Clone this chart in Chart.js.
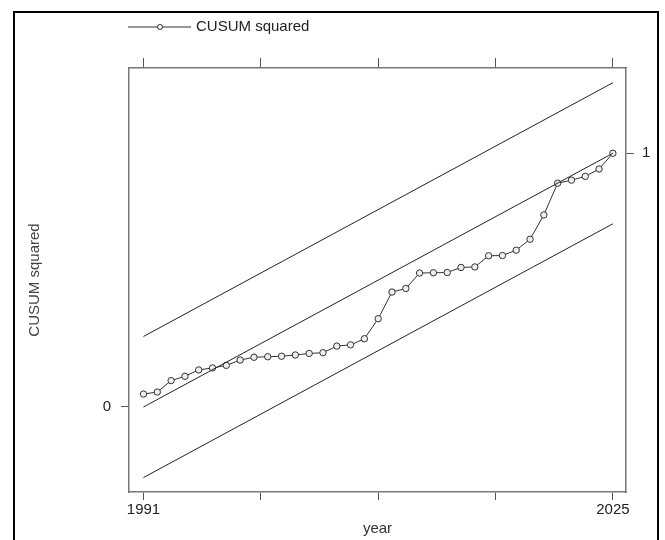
<!DOCTYPE html>
<html>
<head>
<meta charset="utf-8">
<script src="https://cdn.jsdelivr.net/npm/chart.js@4.4.1/dist/chart.umd.min.js"></script>
<style>
  html, body { margin: 0; padding: 0; background: #fff; }
  #wrap { width: 665px; height: 540px; position: relative; }
</style>
</head>
<body>
<div id="wrap"><canvas id="cusumChart" width="665" height="540"></canvas></div>
<script>
// ================= DATA =================
const years = [
  1991, 1992, 1993, 1994, 1995, 1996, 1997, 1998, 1999, 2000,
  2001, 2002, 2003, 2004, 2005, 2006, 2007, 2008, 2009, 2010,
  2011, 2012, 2013, 2014, 2015, 2016, 2017, 2018, 2019, 2020,
  2021, 2022, 2023, 2024, 2025
];
const cusumSquared = [
  0.051, 0.059, 0.104, 0.121, 0.146, 0.154, 0.164, 0.185, 0.196, 0.198,
  0.200, 0.205, 0.211, 0.214, 0.240, 0.245, 0.269, 0.348, 0.453, 0.467,
  0.528, 0.529, 0.530, 0.550, 0.552, 0.596, 0.597, 0.618, 0.661, 0.757,
  0.882, 0.894, 0.909, 0.938, 1.000
];
// straight reference lines, endpoints only
const boundYears = [1991, 2025];
const upperBound = [0.278, 1.278];
const expectedLine = [0, 1];
const lowerBound = [-0.278, 0.722];

const xTicks = [1991, 1999.5, 2008, 2016.5, 2025];
const xTickLabels = { 1991: "1991", 2025: "2025" };

const FONT = "'Liberation Sans Narrow', 'Liberation Sans', Arial, sans-serif";
const TICK_COL = "#555";
const BOX_COL = "#777";

const toPts = (xs, ys) => xs.map((x, i) => ({ x: x, y: ys[i] }));

// ================= PLUGINS =================
const frame = {
  id: "frame",
  beforeDraw(chart) {
    const c = chart.ctx;
    c.save();
    c.fillStyle = "#fff";
    c.fillRect(0, 0, chart.width, chart.height);
    c.strokeStyle = "#000";
    c.lineWidth = 2;
    c.strokeRect(14, 12, 644, 600);
    c.restore();
  },
  afterDraw(chart) {
    // legend: line with marker + label
    const c = chart.ctx;
    const y = 27;
    c.save();
    c.strokeStyle = "#333";
    c.lineWidth = 1;
    c.beginPath();
    c.moveTo(128, y);
    c.lineTo(191, y);
    c.stroke();
    c.beginPath();
    c.arc(160, y, 2.5, 0, Math.PI * 2);
    c.fillStyle = "#fff";
    c.fill();
    c.stroke();
    c.fillStyle = "#222";
    c.font = "15px " + FONT;
    c.textBaseline = "middle";
    c.fillText("CUSUM squared", 196, y);
    c.restore();
  }
};

const fixSize = (prop, val) => (scale) => { scale[prop] = val; };

// ================= CHART =================
new Chart(document.getElementById("cusumChart").getContext("2d"), {
  type: "scatter",
  data: {
    datasets: [
      {
        label: "upper",
        data: toPts(boundYears, upperBound),
        showLine: true,
        borderColor: "#222",
        borderWidth: 1,
        pointRadius: 0
      },
      {
        label: "expected",
        data: toPts(boundYears, expectedLine),
        showLine: true,
        borderColor: "#222",
        borderWidth: 1,
        pointRadius: 0
      },
      {
        label: "lower",
        data: toPts(boundYears, lowerBound),
        showLine: true,
        borderColor: "#222",
        borderWidth: 1,
        pointRadius: 0
      },
      {
        label: "CUSUM squared",
        data: toPts(years, cusumSquared),
        showLine: true,
        borderColor: "#333",
        borderWidth: 1,
        pointRadius: 3.2,
        pointBorderWidth: 1,
        pointBackgroundColor: "#eee",
        pointBorderColor: "#333"
      }
    ]
  },
  options: {
    responsive: false,
    animation: false,
    layout: { padding: 0 },
    plugins: {
      legend: { display: false },
      tooltip: { enabled: false }
    },
    scales: {
      x: {
        type: "linear",
        position: "bottom",
        min: 1989.95,
        max: 2025.95,
        afterBuildTicks: (s) => { s.ticks = xTicks.map(v => ({ value: v })); },
        afterFit: fixSize("height", 48),
        ticks: {
          autoSkip: false,
          maxRotation: 0,
          padding: 1,
          color: "#222",
          font: { family: FONT, size: 15 },
          callback: (v) => xTickLabels[v] || ""
        },
        grid: { drawOnChartArea: false, drawTicks: true, tickLength: 8, color: TICK_COL },
        border: { color: BOX_COL, width: 1.5 },
        title: {
          display: true,
          text: "year",
          color: "#333",
          font: { family: FONT, size: 15 },
          padding: { top: 0, bottom: 2 }
        }
      },
      x2: {
        type: "linear",
        position: "top",
        min: 1989.95,
        max: 2025.95,
        afterBuildTicks: (s) => { s.ticks = xTicks.map(v => ({ value: v })); },
        afterFit: fixSize("height", 68),
        ticks: { callback: () => "" },
        grid: { drawOnChartArea: false, drawTicks: true, tickLength: 10, color: TICK_COL },
        border: { color: BOX_COL, width: 1.5 }
      },
      y: {
        type: "linear",
        position: "left",
        min: -0.335,
        max: 1.336,
        afterBuildTicks: (s) => { s.ticks = [{ value: 0 }]; },
        afterFit: fixSize("width", 129),
        ticks: {
          padding: 10,
          color: "#222",
          font: { family: FONT, size: 15 },
          callback: (v) => String(v)
        },
        grid: { drawOnChartArea: false, drawTicks: true, tickLength: 8, color: TICK_COL },
        border: { color: BOX_COL, width: 1.5 },
        title: {
          display: true,
          text: "CUSUM squared",
          color: "#444",
          font: { family: FONT, size: 15 },
          padding: { top: 26, bottom: 0 }
        }
      },
      y2: {
        type: "linear",
        position: "right",
        min: -0.335,
        max: 1.336,
        afterBuildTicks: (s) => { s.ticks = [{ value: 1 }]; },
        afterFit: fixSize("width", 39),
        ticks: {
          padding: 8,
          color: "#222",
          font: { family: FONT, size: 15 },
          callback: (v) => String(v)
        },
        grid: { drawOnChartArea: false, drawTicks: true, tickLength: 8, color: TICK_COL },
        border: { color: BOX_COL, width: 1.5 }
      }
    }
  },
  plugins: [frame]
});
</script>
</body>
</html>
